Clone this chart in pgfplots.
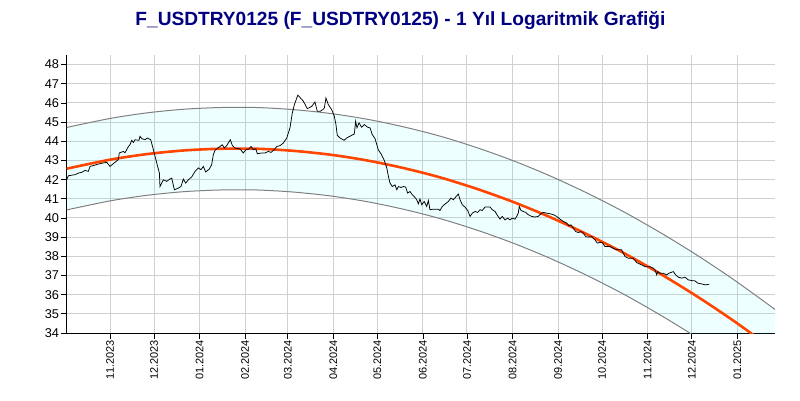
\documentclass[border=0pt]{standalone}
\usepackage{pgfplots}
\pgfplotsset{compat=1.18}
\usepackage{fontspec}
\setmainfont{Liberation Sans}
\definecolor{titleblue}{RGB}{0,0,128}
\definecolor{gridgray}{RGB}{208,208,208}
\definecolor{bandgray}{RGB}{128,128,128}
\definecolor{fitorange}{RGB}{255,69,0}
\definecolor{bandfill}{RGB}{0,255,255}
\begin{document}
\begin{tikzpicture}[x=1bp,y=1bp]
\path[use as bounding box] (0,0) rectangle (800,400);
\node[font=\fontsize{19.2}{21}\selectfont\bfseries, text=titleblue] at (400.5,380) {F\_USDTRY0125 (F\_USDTRY0125) - 1 Yıl Logaritmik Grafiği};
\begin{axis}[
  at={(66.7bp,67bp)}, anchor=south west,
  scale only axis, width=708.3bp, height=278bp,
  xmin=-29.5, xmax=452.7, ymin=34, ymax=48.5,
  axis lines=left, axis line style={-, line width=1bp, black},
  tick align=outside, major tick length=6bp,
  tick style={black, line width=0.8bp},
  ytick={34,35,...,48},
  xtick={0,30,61,92,121,152,182,213,243,274,305,335,366,396,427},
  xticklabels={11.2023,12.2023,01.2024,02.2024,03.2024,04.2024,05.2024,06.2024,07.2024,08.2024,09.2024,10.2024,11.2024,12.2024,01.2025},
  xticklabel style={rotate=90, anchor=east, font=\fontsize{11}{12}\selectfont, inner sep=1bp},
  yticklabel style={font=\fontsize{12.8}{13}\selectfont, inner sep=1.5bp},
  /pgf/number format/assume math mode=true,
  grid=major, major grid style={gridgray, line width=1bp},
  clip=true,
]
% band fill
\addplot[draw=none, fill=bandfill, fill opacity=0.065] coordinates {
(-29.5,44.72) (0,45.19) (25,45.48) (50,45.67) (75,45.76) (100,45.76) (125,45.65) (150,45.45) (175,45.15) (200,44.75) (225,44.26) (250,43.66) (275,42.97) (300,42.18) (325,41.29) (350,40.31) (375,39.22) (400,38.04) (425,36.76) (452.7,35.23)
(452.7,30.93) (425,32.46) (400,33.74) (375,34.92) (350,36.01) (325,36.99) (300,37.88) (275,38.67) (250,39.36) (225,39.96) (200,40.45) (175,40.85) (150,41.15) (125,41.35) (100,41.46) (75,41.46) (50,41.37) (25,41.18) (0,40.89) (-29.5,40.42)
} -- cycle;
% upper band
\addplot[bandgray, line width=1bp, smooth] coordinates {
(-29.5,44.72) (0,45.19) (25,45.48) (50,45.67) (75,45.76) (100,45.76) (125,45.65) (150,45.45) (175,45.15) (200,44.75) (225,44.26) (250,43.66) (275,42.97) (300,42.18) (325,41.29) (350,40.31) (375,39.22) (400,38.04) (425,36.76) (452.7,35.23)
};
% lower band
\addplot[bandgray, line width=1bp, smooth] coordinates {
(-29.5,40.42) (0,40.89) (25,41.18) (50,41.37) (75,41.46) (100,41.46) (125,41.35) (150,41.15) (175,40.85) (200,40.45) (225,39.96) (250,39.36) (275,38.67) (300,37.88) (325,36.99) (350,36.01) (375,34.92) (400,33.74) (425,32.46) (452.7,30.93)
};
% fit
\addplot[fitorange, line width=2.6bp, smooth] coordinates {
(-29.5,42.57) (0,43.04) (25,43.33) (50,43.52) (75,43.61) (100,43.61) (125,43.50) (150,43.30) (175,43.00) (200,42.60) (225,42.11) (250,41.51) (275,40.82) (300,40.03) (325,39.14) (350,38.16) (375,37.07) (400,35.89) (425,34.61) (452.7,33.08)
};
% price
\addplot[black, line width=0.75bp] coordinates {
(-29.5,41.99) (-28.4,42.20) (-23.8,42.26) (-21.6,42.34) (-19.3,42.38) (-17.0,42.48) (-14.8,42.43) (-13.6,42.69) (-11.4,42.73) (-8.0,42.81) (-4.6,42.87) (-2.2,42.90) (0,42.69) (2.2,42.83) (5.6,43.04) (6.3,43.39) (9.1,43.47) (10.2,43.40) (12.5,43.73) (13.6,43.82) (14.8,44.05) (15.9,43.94) (17.0,44.08) (19.7,44.05) (20.4,44.26) (21.6,44.14) (23.8,44.08) (25.4,44.17) (27.7,44.08) (29.5,43.56) (31.8,42.87) (33.6,42.34) (34.0,41.64) (36.3,41.99) (38.6,41.91) (40.8,42.03)
(42.0,42.08) (43.8,41.47) (46.5,41.56) (48.3,41.64) (49.9,42.03) (51.5,41.82) (53.3,41.99) (55.6,42.14) (57.9,42.43) (60.1,42.61) (61.9,42.52) (63.5,42.69) (65.1,42.40) (67.6,42.55) (69.2,42.78) (70.3,43.30) (71.5,43.53) (73.3,43.65) (74.9,43.73) (76.4,43.82) (77.8,43.65) (79.4,43.77) (80.5,43.91) (81.9,44.08) (83.3,43.77) (85.1,43.65) (88.5,43.60) (90.7,43.39) (92.6,43.56) (94.6,43.60) (96.0,43.73) (97.5,43.56) (99.2,43.61) (100.3,43.35) (103.3,43.39) (105.5,43.39) (107.8,43.47) (109.6,43.42) (111.8,43.56) (113.5,43.73) (115.7,43.77)
(118.0,43.91) (120.3,44.17) (122.5,44.70) (124.1,45.48) (125.5,45.91) (127.8,46.40) (129.3,46.29) (131.6,46.09) (134.3,45.70) (137.3,45.82) (139.5,46.05) (141.1,45.56) (143.0,45.56) (144.8,45.65) (145.9,45.74) (147.0,46.26) (148.6,45.91) (150.9,45.65) (152.7,45.30) (153.8,44.87) (154.7,44.31) (156.6,44.17) (159.3,44.05) (161.1,44.17) (164.5,44.31) (166.3,44.38) (167.2,45.04) (168.1,44.70) (169.5,44.96) (171.3,44.73) (173.1,44.87) (175.4,44.73) (177.0,44.70) (178.5,44.35) (180.4,44.14) (182.6,43.56) (184.5,43.34) (186.5,43.04) (188.4,42.61)
(189.5,42.17) (190.6,41.82) (192.2,41.64) (194.0,41.73) (195.2,41.47) (196.3,41.64) (198.1,41.59) (199.7,41.64) (201.3,41.61) (202.6,41.30) (204.2,41.38) (205.8,41.21) (207.1,41.12) (208.8,40.95) (209.9,40.74) (211.0,40.99) (212.2,40.69) (213.9,40.86) (215.6,40.60) (216.7,40.91) (217.8,40.43) (220.1,40.46) (223.5,40.46) (224.6,40.39) (226.2,40.60) (228.0,40.72) (230.3,40.86) (232.1,41.04) (233.7,40.95) (235.3,41.09) (237.1,41.25) (238.3,40.95) (239.8,40.69) (241.6,40.57) (243.5,40.39) (245.1,40.08) (246.6,40.25) (248.5,40.34) (250.3,40.29) (251.9,40.43) (253.4,40.39) (255.3,40.57) (258.7,40.57) (260.2,40.43) (262.1,40.34) (263.9,40.11)
(265.5,39.94) (267.0,40.08) (268.9,39.90) (270.7,39.99) (272.3,39.90) (273.8,39.99) (275.7,39.94) (276.8,40.08) (277.9,40.25) (278.6,40.60) (279.8,40.39) (281.3,40.34) (283.0,40.29) (284.7,40.17) (287.1,40.08) (289.3,40.05) (291.5,40.08) (293.4,40.22) (294.9,40.29) (297.3,40.25) (299.5,40.22) (301.8,40.17) (304.1,40.08) (306.3,39.94) (308.6,39.82) (310.9,39.73) (312.4,39.59) (313.8,39.64) (315.4,39.47) (317.0,39.29) (318.8,39.24) (320.6,39.29) (322.2,39.21) (323.8,39.03) (325.6,39.00) (327.9,39.03) (330.1,38.86) (331.7,38.69) (333.5,38.72) (335.1,38.72) (336.9,38.51)
(340.4,38.51) (343.8,38.37) (346.0,38.34) (348.3,38.34) (350.6,37.99) (352.8,37.90) (356.2,37.90) (358.6,37.67) (362.0,37.55) (364.2,37.46) (367.6,37.46) (369.8,37.38) (371.0,37.29) (372.2,37.03) (372.8,37.20) (374.4,37.12) (376.6,37.12) (378.9,37.03) (380.5,37.12) (382.3,37.17) (383.5,37.20) (385.1,37.03) (386.9,36.91) (389.2,36.86) (391.4,36.91) (393.7,36.77) (396.4,36.73) (398.2,36.72) (400.1,36.60) (402.8,36.56) (405.0,36.51) (407.8,36.54)
};
\end{axis}
\end{tikzpicture}
\end{document}
